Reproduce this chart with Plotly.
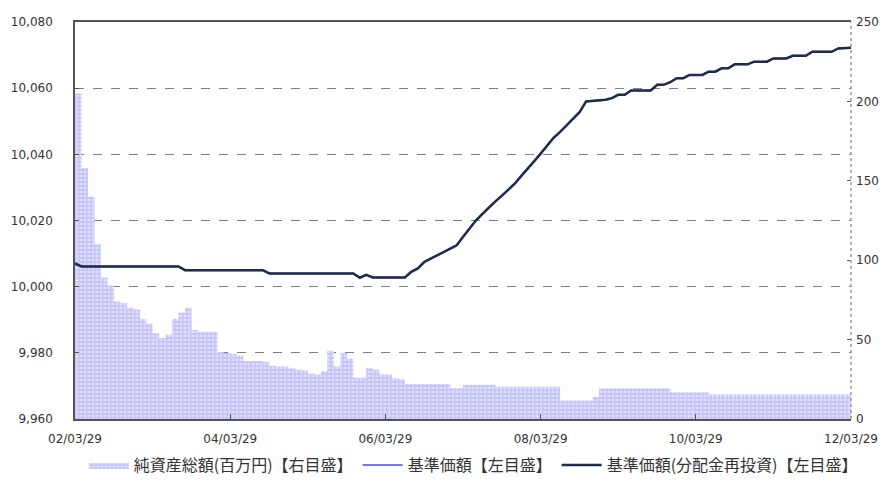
import plotly.graph_objects as go
from datetime import date

# ---- data (monthly, starting 2002/03/29) ----
start_year = 2002
start_month = 3

# 基準価額 (分配金再投資) – left axis, yen
nav = [
    10007.0, 10006.1, 10006.1, 10006.1, 10006.1, 10006.1, 10006.1, 10006.1, 10006.1, 10006.1,
    10006.1, 10006.1, 10006.1, 10006.1, 10006.1, 10006.1, 10006.1, 10005.0, 10005.0, 10005.0,
    10005.0, 10005.0, 10005.0, 10005.0, 10005.0, 10005.0, 10005.0, 10005.0, 10005.0, 10005.0,
    10004.0, 10004.0, 10004.0, 10004.0, 10004.0, 10004.0, 10004.0, 10004.0, 10004.0, 10004.0,
    10004.0, 10004.0, 10004.0, 10004.0, 10002.7, 10003.6, 10002.8, 10002.8, 10002.8, 10002.8,
    10002.8, 10002.8, 10004.5, 10005.5, 10007.5, 10008.5, 10009.5, 10010.5, 10011.5, 10012.5,
    10015.0, 10017.5, 10020.0, 10022.0, 10024.0, 10025.8, 10027.5, 10029.3, 10031.2, 10033.5,
    10035.6, 10038.0, 10040.2, 10042.5, 10045.0, 10046.8, 10048.8, 10050.8, 10052.8, 10056.0,
    10056.2, 10056.3, 10056.5, 10057.0, 10058.0, 10058.0, 10059.3, 10059.3, 10059.3, 10059.3,
    10061.0, 10061.0, 10061.8, 10063.0, 10063.0, 10064.0, 10064.0, 10064.0, 10065.0, 10065.0,
    10066.0, 10066.0, 10067.2, 10067.2, 10067.2, 10068.0, 10068.0, 10068.0, 10069.0, 10069.0,
    10069.0, 10069.8, 10069.8, 10069.8, 10071.0, 10071.0, 10071.0, 10071.0, 10072.0, 10072.0,
    10072.2,
]

# 基準価額 – left axis (no distributions, identical to the reinvested series)
nav_plain = list(nav)

# 純資産総額 (百万円) – right axis
assets = [
    205, 158, 140, 110, 89, 84, 74, 73, 70, 69,
    63, 60, 54, 51, 53, 63, 67, 70, 56, 55,
    55, 55, 42, 41.5, 41, 40, 36.5, 36.5, 36.5, 36,
    33.5, 33, 33, 32, 31, 30.5, 28.5, 28, 30, 43,
    33, 41.5, 38, 26, 26, 32, 31, 28, 28, 25.5,
    25, 22, 22, 22, 22, 22, 22, 22, 19.5, 19.5,
    21.5, 21.5, 21.5, 21.5, 21.5, 20.3, 20.3, 20.3, 20.3, 20.3,
    20.3, 20.3, 20.3, 20.3, 20.3, 11.7, 11.7, 11.7, 11.7, 11.7,
    14, 19.3, 19.3, 19.3, 19.3, 19.3, 19.3, 19.3, 19.3, 19.3,
    19.3, 19.3, 16.8, 16.8, 16.8, 16.8, 16.8, 16.8, 15.5, 15.5,
    15.5, 15.5, 15.5, 15.5, 15.5, 15.5, 15.5, 15.5, 15.5, 15.5,
    15.5, 15.5, 15.5, 15.5, 15.5, 15.5, 15.5, 15.5, 15.5, 15.5,
    15.5,
]

tick_dates = ["2002-03-29", "2004-03-29", "2006-03-29", "2008-03-29", "2010-03-29", "2012-03-29"]
tick_labels = ["02/03/29", "04/03/29", "06/03/29", "08/03/29", "10/03/29", "12/03/29"]

left_ticks = [9960, 9980, 10000, 10020, 10040, 10060, 10080]
left_labels = ["9,960", "9,980", "10,000", "10,020", "10,040", "10,060", "10,080"]
right_ticks = [0, 50, 100, 150, 200, 250]

names = ["純資産総額(百万円)【右目盛】", "基準価額【左目盛】", "基準価額(分配金再投資)【左目盛】"]

# monthly dates
dates = []
for i in range(len(nav)):
    m = start_month - 1 + i
    y = start_year + m // 12
    mo = m % 12 + 1
    d = 28 if (mo == 2 and y % 4 != 0) else 29
    dates.append(date(y, mo, d).isoformat())

fig = go.Figure()

fig.add_trace(go.Scatter(
    x=dates, y=assets, name=names[0], yaxis="y",
    mode="lines", line=dict(width=0, shape="hv", color="#c6c6fc"),
    fill="tozeroy", fillcolor="#c6c6fc",
    fillpattern=dict(shape=".", fgcolor="white", bgcolor="#c6c6fc", size=4, solidity=0.3),
    hoverinfo="skip",
))
fig.add_trace(go.Scatter(
    x=dates, y=nav_plain, name=names[1], yaxis="y2",
    mode="lines", line=dict(width=2, shape="linear", color="#7878f0"),
    hoverinfo="skip",
))
fig.add_trace(go.Scatter(
    x=dates, y=nav, name=names[2], yaxis="y2",
    mode="lines", line=dict(width=2.5, shape="linear", color="#1e2d4c"),
    hoverinfo="skip",
))

tick_font = dict(family="DejaVu Sans", size=12, color="#333333")

fig.update_layout(
    width=888, height=482, autosize=False,
    margin=dict(l=75, r=37, t=22, b=63, autoexpand=False),
    paper_bgcolor="white", plot_bgcolor="white",
    showlegend=True,
    legend=dict(
        orientation="h", x=0.533, xanchor="center", xref="container",
        y=0.0, yanchor="bottom", yref="container",
        font=dict(family="Noto Sans CJK JP", size=16, color="#333333"),
        itemwidth=40, tracegroupgap=0, bgcolor="rgba(0,0,0,0)",
    ),
    xaxis=dict(
        type="date", range=["2002-03-29", "2012-03-29"],
        tickvals=tick_dates, ticktext=tick_labels, tickfont=tick_font,
        ticks="inside", ticklen=5, tickcolor="#555555",
        showline=True, linecolor="#555555", linewidth=1.5, mirror=True,
        showgrid=False, zeroline=False, ticklabelstandoff=8, automargin=False,
    ),
    yaxis=dict(
        side="right", range=[0, 250], tickvals=right_ticks, tickfont=tick_font,
        ticks="inside", ticklen=4, tickcolor="#555555",
        showline=False, showgrid=False, zeroline=False, ticklabelstandoff=4,
        automargin=False,
    ),
    yaxis2=dict(
        side="left", overlaying="y", anchor="x", range=[9960, 10080],
        tickvals=left_ticks, ticktext=left_labels, tickfont=tick_font,
        ticks="inside", ticklen=4, tickcolor="#555555",
        showline=True, linecolor="#555555", linewidth=1.5,
        showgrid=True, gridcolor="#808080", griddash="dash", gridwidth=1,
        zeroline=False, ticklabelstandoff=18, automargin=False,
    ),
    shapes=[dict(
        type="line", xref="paper", yref="paper", x0=1, x1=1, y0=0, y1=1,
        line=dict(color="#9a9a9a", width=1.5, dash="dot"),
    )],
)

fig.write_html(
    "out.html",
    config={"displayModeBar": False},
    post_script="document.body.style.margin='0';document.body.style.overflow='hidden';",
)
